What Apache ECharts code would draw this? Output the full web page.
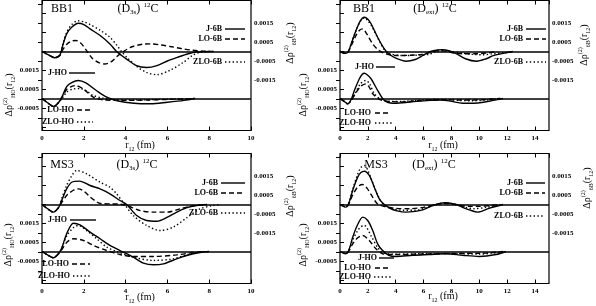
<!DOCTYPE html>
<html><head><meta charset="utf-8">
<script src="https://cdn.jsdelivr.net/npm/echarts@6/dist/echarts.min.js"></script>
<style>html,body{margin:0;padding:0;background:#fff}#c{width:596px;height:306px}</style>
</head><body><div id="c"></div>
<script>
// ---- data: r12 (fm), values in units of 1e-3 ----
const tlUpJ = [[0,0],[0.35,-0.2],[0.6,-0.33],[0.85,-0.2],[1.0,0.35],[1.18,0.93],[1.42,1.28],[1.74,1.49],[2.0,1.42],[2.3,1.19],[2.78,0.84],[3.25,0.4],[3.57,0],[4.05,-0.4],[4.53,-0.75],[5.0,-0.84],[5.5,-0.74],[6.0,-0.5],[6.5,-0.3],[7.0,-0.12],[7.4,-0.03],[8.0,0]];
const tlUpLO = [[0,0],[0.35,-0.2],[0.6,-0.33],[0.85,-0.2],[1.0,0.1],[1.2,0.4],[1.45,0.56],[1.62,0.58],[1.85,0.45],[2.1,0.1],[2.4,-0.35],[2.75,-0.6],[3.0,-0.66],[3.3,-0.55],[3.6,-0.25],[3.9,0],[4.3,0.25],[4.8,0.38],[5.2,0.4],[5.7,0.34],[6.2,0.25],[6.7,0.15],[7.2,0.07],[7.7,0.02],[8.2,0]];
const tlUpZLO = [[0,0],[0.35,-0.2],[0.6,-0.33],[0.85,-0.2],[1.0,0.4],[1.18,1.0],[1.42,1.42],[1.72,1.62],[2.0,1.56],[2.3,1.42],[2.78,1.12],[3.25,0.75],[3.6,0.3],[3.8,0],[4.1,-0.35],[4.55,-0.8],[5.0,-1.1],[5.5,-1.22],[6.1,-1.0],[6.75,-0.58],[7.2,-0.21],[7.6,-0.03],[8.2,0]];
const tlLoJ = [[0,0],[0.3,-0.25],[0.55,-0.42],[0.8,-0.2],[0.95,0.07],[1.18,0.63],[1.42,0.84],[1.74,0.95],[2.1,0.82],[2.6,0.42],[3.1,0.07],[3.6,-0.12],[4.4,-0.25],[5.2,-0.28],[6.0,-0.2],[6.8,-0.1],[7.3,0]];
const tlLoLO = [[0,0],[0.3,-0.25],[0.55,-0.42],[0.8,-0.2],[0.95,0.05],[1.2,0.5],[1.45,0.65],[1.6,0.68],[1.95,0.52],[2.45,0.07],[2.9,-0.07],[4.0,-0.1],[5.0,-0.08],[6.0,-0.05],[7.0,-0.02],[7.3,0]];
const tlLoZLO = [[0,0],[0.3,-0.25],[0.55,-0.42],[0.8,-0.2],[0.95,0.0],[1.2,0.35],[1.5,0.5],[1.85,0.52],[2.15,0.38],[2.45,0.16],[2.9,0.03],[3.5,-0.05],[4.5,-0.08],[5.5,-0.05],[6.5,-0.02],[7.3,0]];

const trUpJ = [[0,0],[0.4,-0.1],[0.6,0],[0.8,0.4],[1.15,1.1],[1.45,1.6],[1.75,1.8],[2.0,1.7],[2.23,1.46],[2.7,0.75],[3.18,0.14],[3.5,-0.12],[4.0,-0.35],[4.75,-0.51],[5.4,-0.42],[5.95,-0.21],[6.5,0],[7.0,0.08],[7.4,0.1],[7.8,0.04],[8.3,-0.1],[9.0,-0.38],[9.8,-0.51],[10.5,-0.38],[11.0,-0.22],[11.9,-0.07],[12.4,0]];
const trUpLO = [[0,0],[0.4,-0.1],[0.6,0],[0.8,0.3],[1.15,0.85],[1.4,1.12],[1.63,1.19],[1.9,0.95],[2.35,0.4],[2.8,0.05],[3.3,-0.12],[4.0,-0.21],[5.0,-0.2],[5.9,-0.15],[6.6,-0.02],[7.1,0.05],[7.6,0.02],[8.2,-0.08],[8.9,-0.12],[9.8,-0.12],[10.5,-0.08],[11.3,0]];
const trUpZLO = [[0,0],[0.4,-0.1],[0.6,0],[0.8,0.4],[1.15,1.1],[1.45,1.58],[1.75,1.77],[2.0,1.62],[2.3,1.3],[2.58,0.9],[2.9,0.45],[3.18,0.1],[3.6,-0.12],[4.5,-0.21],[5.4,-0.2],[6.4,-0.15],[6.9,0],[7.3,0.05],[7.8,0.02],[8.6,-0.07],[9.5,-0.15],[10.3,-0.17],[11.0,-0.12],[11.8,-0.07],[12.4,0]];
const trLoJ = [[0,0],[0.3,-0.15],[0.55,-0.28],[0.8,-0.05],[1.03,0.42],[1.39,1.04],[1.6,1.28],[1.75,1.33],[1.95,1.25],[2.23,1.04],[2.71,0.42],[3.18,-0.1],[3.8,-0.25],[4.5,-0.22],[5.5,-0.15],[6.5,-0.1],[7.3,-0.08],[8.0,-0.15],[8.8,-0.25],[9.6,-0.25],[10.3,-0.2],[11.0,-0.1],[11.7,0]];
const trLoLO = [[0,0],[0.3,-0.15],[0.55,-0.28],[0.8,-0.1],[1.1,0.25],[1.5,0.65],[1.87,0.77],[2.1,0.6],[2.35,0.25],[2.83,-0.05],[3.5,-0.15],[4.5,-0.18],[5.5,-0.12],[6.5,-0.08],[7.5,-0.06],[8.5,-0.08],[9.5,-0.08],[10.5,-0.05],[11.5,0]];
const trLoZLO = [[0,0],[0.3,-0.15],[0.55,-0.28],[0.8,-0.1],[1.1,0.3],[1.5,0.8],[1.85,0.95],[2.1,0.8],[2.47,0.25],[2.95,-0.05],[3.5,-0.15],[4.5,-0.15],[5.5,-0.1],[6.5,-0.06],[7.5,-0.05],[8.5,-0.1],[9.5,-0.12],[10.5,-0.08],[11.5,0]];

const blUpJ = [[0,0],[0.3,-0.25],[0.54,-0.4],[0.8,-0.15],[0.94,0.21],[1.18,0.82],[1.42,1.17],[1.8,1.23],[2.3,1.0],[2.78,0.82],[3.25,0.56],[3.73,0.21],[4.05,0],[4.53,-0.58],[5.0,-0.84],[5.5,-0.88],[6.0,-0.67],[6.45,-0.4],[6.9,-0.18],[7.4,-0.05],[7.9,0]];
const blUpLO = [[0,0],[0.3,-0.25],[0.54,-0.4],[0.8,-0.15],[0.94,0.1],[1.2,0.5],[1.5,0.75],[1.74,0.82],[2.0,0.7],[2.3,0.4],[2.6,0.15],[2.8,0.05],[3.3,0.03],[3.7,0.02],[4.05,-0.05],[4.7,-0.32],[5.3,-0.4],[6.0,-0.4],[6.6,-0.23],[7.2,-0.07],[7.8,0]];
const blUpZLO = [[0,0],[0.3,-0.25],[0.54,-0.4],[0.8,-0.15],[0.94,0.3],[1.18,1.0],[1.42,1.5],[1.66,1.79],[2.14,1.61],[2.78,1.17],[3.25,0.91],[3.57,0.56],[3.89,0.1],[4.37,-0.58],[5.0,-1.1],[5.65,-1.37],[6.28,-1.19],[6.92,-0.7],[7.56,-0.23],[8.2,-0.05],[8.5,0]];
const blLoJ = [[0,0],[0.3,-0.2],[0.54,-0.33],[0.8,-0.1],[0.95,0.2],[1.18,0.93],[1.5,1.49],[1.82,1.4],[2.3,1.02],[2.78,0.67],[3.25,0.32],[3.73,0.05],[4.37,-0.3],[4.85,-0.61],[5.33,-0.7],[5.81,-0.65],[6.44,-0.39],[6.92,-0.21],[7.56,-0.05],[8.0,0]];
const blLoLO = [[0,0],[0.3,-0.2],[0.54,-0.33],[0.8,-0.1],[0.95,0.1],[1.2,0.5],[1.5,0.67],[1.99,0.58],[2.46,0.32],[3.1,0.05],[3.73,-0.16],[4.37,-0.26],[5.33,-0.26],[6.44,-0.18],[7.24,-0.05],[7.7,0]];
const blLoZLO = [[0,0],[0.3,-0.2],[0.54,-0.33],[0.8,-0.1],[0.95,0.2],[1.2,0.85],[1.5,1.25],[1.74,1.37],[2.14,1.1],[2.62,0.67],[3.1,0.23],[3.57,0],[4.37,-0.3],[5.33,-0.47],[6.28,-0.39],[7.08,-0.12],[7.7,0]];

const brUpJ = [[0,0],[0.43,-0.14],[0.65,0.1],[0.91,0.74],[1.27,1.44],[1.5,1.68],[1.75,1.75],[2.1,1.53],[2.46,0.91],[2.82,0.3],[3.18,0],[3.6,-0.2],[4.02,-0.32],[4.74,-0.4],[5.4,-0.36],[5.94,-0.28],[6.5,-0.1],[6.9,0],[7.6,0.09],[8.33,0],[8.8,-0.15],[9.28,-0.28],[9.88,-0.4],[10.7,-0.2],[11.7,0]];
const brUpLO = [[0,0],[0.43,-0.14],[0.65,0.05],[0.91,0.5],[1.3,0.95],[1.63,1.05],[1.95,0.85],[2.22,0.53],[2.7,0.03],[3.3,-0.12],[4.0,-0.2],[5.0,-0.22],[6.0,-0.15],[6.9,0],[7.6,0.05],[8.3,0],[9.2,-0.1],[10.0,-0.1],[10.8,-0.05],[11.5,0]];
const brUpZLO = [[0,0],[0.43,-0.14],[0.65,0.1],[0.91,0.8],[1.27,1.6],[1.5,1.95],[1.75,2.05],[2.0,1.8],[2.22,1.39],[2.7,0.5],[3.06,0.05],[3.6,-0.2],[4.5,-0.3],[5.4,-0.3],[6.1,-0.2],[6.9,0],[7.6,0.1],[8.3,0],[9.0,-0.15],[9.6,-0.22],[10.5,-0.15],[11.5,0]];
const brLoJ = [[0,0],[0.43,-0.12],[0.65,0.1],[0.91,0.75],[1.27,1.42],[1.63,1.81],[1.99,1.63],[2.35,1.1],[2.7,0.4],[3.06,0.05],[3.5,-0.2],[4.02,-0.26],[5.22,-0.2],[6.4,-0.16],[7.6,-0.12],[8.8,-0.2],[10.0,-0.26],[11.2,-0.16],[11.9,0]];
const brLoLO = [[0,0],[0.43,-0.12],[0.65,0.05],[0.91,0.4],[1.27,0.72],[1.63,0.84],[2.1,0.58],[2.58,0.14],[3.06,-0.12],[4.0,-0.16],[5.5,-0.14],[7.0,-0.12],[8.5,-0.1],[10.0,-0.1],[11.0,-0.05],[11.7,0]];
const brLoZLO = [[0,0],[0.43,-0.12],[0.65,0.08],[0.91,0.6],[1.27,1.1],[1.5,1.3],[1.75,1.37],[2.22,0.84],[2.7,0.21],[3.18,-0.1],[4.0,-0.14],[5.5,-0.12],[7.0,-0.1],[8.5,-0.12],[10.0,-0.14],[11.0,-0.08],[11.8,0]];

const upperNames = ['J-6B','LO-6B','ZLO-6B'];
const lowerNames = ['J-HO','LO-HO','ZLO-HO'];
const panelNames = ['BB1','BB1','MS3','MS3'];
const panelSubs = ['3s','ext','3s','ext'];
const xMaxes = [10, 15, 10, 15];
const SCALE = 1e-3;

// ---- layout ----
const FONT = 'Liberation Serif';
const W = 209, H = 130;
const panels = [
  {L:42, T:0.5, up:[tlUpJ,tlUpLO,tlUpZLO], lo:[tlLoJ,tlLoLO,tlLoZLO],
   t1:[62,9], t2:[138,9], upR:222, upY:[29,39,62], upL:[225,245],
   loLeg:[[67,73,69,95],[74,110,77,92],[74,122,77,93]], yl:[9,95], yr:[290,43], xt:[140,145]},
  {L:340, T:0.5, up:[trUpJ,trUpLO,trUpZLO], lo:[trLoJ,trLoLO,trLoZLO],
   t1:[364,9], t2:[435,9], upR:523, upY:[29,39,62], upL:[526,546],
   loLeg:[[374,67,376,395],[371,113,375,390],[371,123,375,392]], yl:[303,95], yr:[584,45], xt:[443,145]},
  {L:42, T:153.5, up:[blUpJ,blUpLO,blUpZLO], lo:[blLoJ,blLoLO,blLoZLO],
   t1:[62,165], t2:[137,165], upR:218, upY:[183,193,213], upL:[221,245],
   loLeg:[[67,220,70,96],[69,264,72,90],[70,276,73,92]], yl:[8,245], yr:[290,196], xt:[140,297]},
  {L:340, T:153.5, up:[brUpJ,brUpLO,brUpZLO], lo:[brLoJ,brLoLO,brLoZLO],
   t1:[376,165], t2:[434,165], upR:523, upY:[183,193,216], upL:[526,545],
   loLeg:[[377,258,379,394],[371,268,375,390],[371,277,374,392]], yl:[303,245], yr:[587,188], xt:[443,296]}
];
const styles = ['solid', [5,3], [1.4,2.4]];
const LW = 1.4;

const grid = [], xAxis = [], yAxis = [], series = [], graphic = [];
const lab = {fontSize:7, fontFamily:FONT, color:'#000', fontWeight:'bold'};
const tick = {show:true, inside:true, length:4, lineStyle:{color:'#000', width:1}};

panels.forEach((p, i) => {
  const g0 = grid.length;
  grid.push({left:p.L, top:p.T, width:W, height:H, show:true, borderColor:'#000', borderWidth:1.2, backgroundColor:'transparent'});
  grid.push({left:p.L, top:p.T+3.5, width:W, height:114});
  grid.push({left:p.L, top:p.T+12.5, width:W, height:114});
  const xm = xMaxes[i];
  xAxis.push({gridIndex:g0, type:'value', min:0, max:xm, interval:2, position:'bottom',
    axisLine:{show:false}, axisTick:tick, splitLine:{show:false},
    axisLabel:Object.assign({margin:4, showMaxLabel: xm===10}, lab)});
  xAxis.push({gridIndex:g0, type:'value', min:0, max:xm, interval:2, position:'top',
    axisLine:{show:false}, axisTick:tick, splitLine:{show:false}, axisLabel:{show:false}});
  const xu = xAxis.length;
  xAxis.push({gridIndex:g0+1, type:'value', min:0, max:xm, show:false});
  const xl = xAxis.length;
  xAxis.push({gridIndex:g0+2, type:'value', min:0, max:xm, show:false});
  yAxis.push({gridIndex:g0, type:'value', min:0, max:1, show:false});
  const yu = yAxis.length;
  yAxis.push({gridIndex:g0+1, type:'value', position:'right', min:-0.0035, max:0.0025, interval:0.001,
    axisLine:{show:false}, axisTick:tick, splitLine:{show:false},
    axisLabel:Object.assign({margin:3, formatter:v => (v > -0.002 && v < 0.002) ? v.toFixed(4) : ''}, lab)});
  const yl = yAxis.length;
  yAxis.push({gridIndex:g0+2, type:'value', position:'left', min:-0.0015, max:0.0045, interval:0.001,
    axisLine:{show:false}, axisTick:tick, splitLine:{show:false},
    axisLabel:Object.assign({margin:3, formatter:v => (v > -0.001 && v < 0.002) ? v.toFixed(4) : ''}, lab)});

  const zero = {silent:true, symbol:'none', label:{show:false}, lineStyle:{color:'#000', width:1.5, type:'solid'}, data:[{yAxis:0}]};
  p.up.forEach((arr, k) => {
    series.push({type:'line', name:upperNames[k], xAxisIndex:xu, yAxisIndex:yu, showSymbol:false, smooth:0.3,
      data: arr.map(d => [d[0], d[1]*SCALE]),
      lineStyle:{color:'#000', width:LW, type:styles[k]},
      markLine: k===0 ? zero : undefined});
  });
  p.lo.forEach((arr, k) => {
    series.push({type:'line', name:lowerNames[k], xAxisIndex:xl, yAxisIndex:yl, showSymbol:false, smooth:0.3,
      data: arr.map(d => [d[0], d[1]*SCALE]),
      lineStyle:{color:'#000', width:LW, type:styles[k]},
      markLine: k===0 ? zero : undefined});
  });

  graphic.push({type:'text', x:p.t1[0], y:p.t1[1], style:{text:panelNames[i], font:`12px "${FONT}"`, fill:'#000', align:'center', verticalAlign:'middle'}});
  graphic.push({type:'text', x:p.t2[0], y:p.t2[1], style:{
    text:`{a|(D}{s|${panelSubs[i]}}{a|)} {u|12}{a|C}`, align:'center', verticalAlign:'middle',
    rich:{a:{fontSize:12, fontFamily:FONT, lineHeight:14, fill:'#000'},
          s:{fontSize:7, fontFamily:FONT, verticalAlign:'bottom', lineHeight:14, fill:'#000'},
          u:{fontSize:7, fontFamily:FONT, verticalAlign:'top', lineHeight:14, fill:'#000'}}}});
  upperNames.forEach((nm, k) => {
    graphic.push({type:'text', x:p.upR, y:p.upY[k], style:{text:nm, font:`bold 8px "${FONT}"`, fill:'#000', align:'right', verticalAlign:'middle'}});
    graphic.push({type:'line', shape:{x1:p.upL[0], y1:p.upY[k], x2:p.upL[1], y2:p.upY[k]},
      style:{stroke:'#000', lineWidth:LW, lineDash: k===0 ? null : styles[k]}});
  });
  lowerNames.forEach((nm, k) => {
    const q = p.loLeg[k];
    graphic.push({type:'text', x:q[0], y:q[1], style:{text:nm, font:`bold 8px "${FONT}"`, fill:'#000', align:'right', verticalAlign:'middle'}});
    graphic.push({type:'line', shape:{x1:q[2], y1:q[1], x2:q[3], y2:q[1]},
      style:{stroke:'#000', lineWidth:LW, lineDash: k===0 ? null : styles[k]}});
  });
  const yRich = {a:{fontSize:10, fontFamily:FONT, lineHeight:14, fill:'#000'},
                 u:{fontSize:6, fontFamily:FONT, verticalAlign:'top', lineHeight:14, fill:'#000'},
                 s:{fontSize:6, fontFamily:FONT, verticalAlign:'bottom', lineHeight:14, fill:'#000'}};
  graphic.push({type:'text', x:p.yl[0], y:p.yl[1], rotation:Math.PI/2, style:{
    text:'{a|Δρ}{u|(2)}{s|HO}{a|(r}{s|12}{a|)}', align:'center', verticalAlign:'middle', rich:yRich}});
  graphic.push({type:'text', x:p.yr[0], y:p.yr[1], rotation:Math.PI/2, style:{
    text:'{a|Δρ}{u|(2)}{s|6B}{a|(r}{s|12}{a|)}', align:'center', verticalAlign:'middle', rich:yRich}});
  graphic.push({type:'text', x:p.xt[0], y:p.xt[1], style:{
    text:'{a|r}{s|12}{a| (fm)}', align:'center', verticalAlign:'middle', rich:yRich}});
});

const chart = echarts.init(document.getElementById('c'), null, {renderer:'canvas'});
chart.setOption({animation:false, backgroundColor:'#fff', grid, xAxis, yAxis, series, graphic});
</script>
</body></html>
